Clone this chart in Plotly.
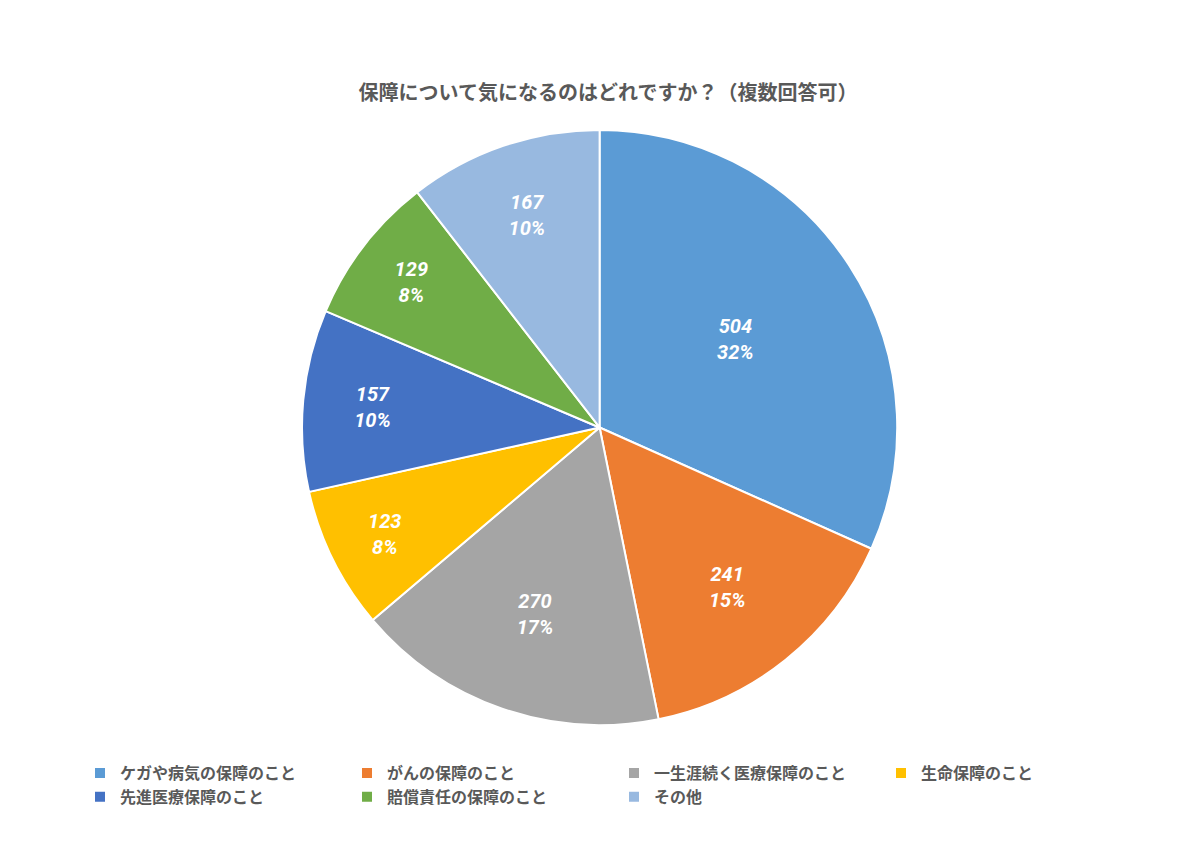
import plotly.graph_objects as go

labels = [
    "ケガや病気の保障のこと",
    "がんの保障のこと",
    "一生涯続く医療保障のこと",
    "生命保障のこと",
    "先進医療保障のこと",
    "賠償責任の保障のこと",
    "その他",
]
values = [504, 241, 270, 123, 157, 129, 167]
colors = ["#5B9BD5", "#ED7D31", "#A5A5A5", "#FFC000", "#4472C4", "#70AD47", "#98B9E0"]

font = "Noto Sans CJK JP"

fig = go.Figure(
    go.Pie(
        labels=["<b>" + s + "</b>" for s in labels],
        values=values,
        sort=False,
        direction="clockwise",
        rotation=0,
        marker=dict(colors=colors, line=dict(color="white", width=2)),
        texttemplate="<i><b>%{value}<br>%{percent:.0%}</b></i>",
        textposition="inside",
        insidetextorientation="horizontal",
        textfont=dict(family="Roboto, " + font, size=20, color="white"),
        hoverinfo="label+value+percent",
        domain=dict(x=[0.245, 0.741], y=[0.156, 0.857]),
    )
)

fig.update_layout(
    width=1200,
    height=850,
    margin=dict(l=0, r=0, t=0, b=0),
    paper_bgcolor="white",
    font=dict(family=font, color="#595959"),
    title=dict(
        text="<b>保障について気になるのはどれですか？（複数回答可）</b>",
        x=0.5,
        xanchor="center",
        y=1 - 85 / 850,
        yanchor="middle",
        font=dict(size=20, color="#595959"),
    ),
    legend=dict(
        orientation="h",
        x=0.06,
        xanchor="left",
        y=1 - 748 / 850,
        yanchor="top",
        entrywidth=222,
        entrywidthmode="pixels",
        font=dict(size=16, color="#595959", family=font),
        itemwidth=30,
        tracegroupgap=0,
        traceorder="normal",
    ),
)

fig.write_html("out.html")
